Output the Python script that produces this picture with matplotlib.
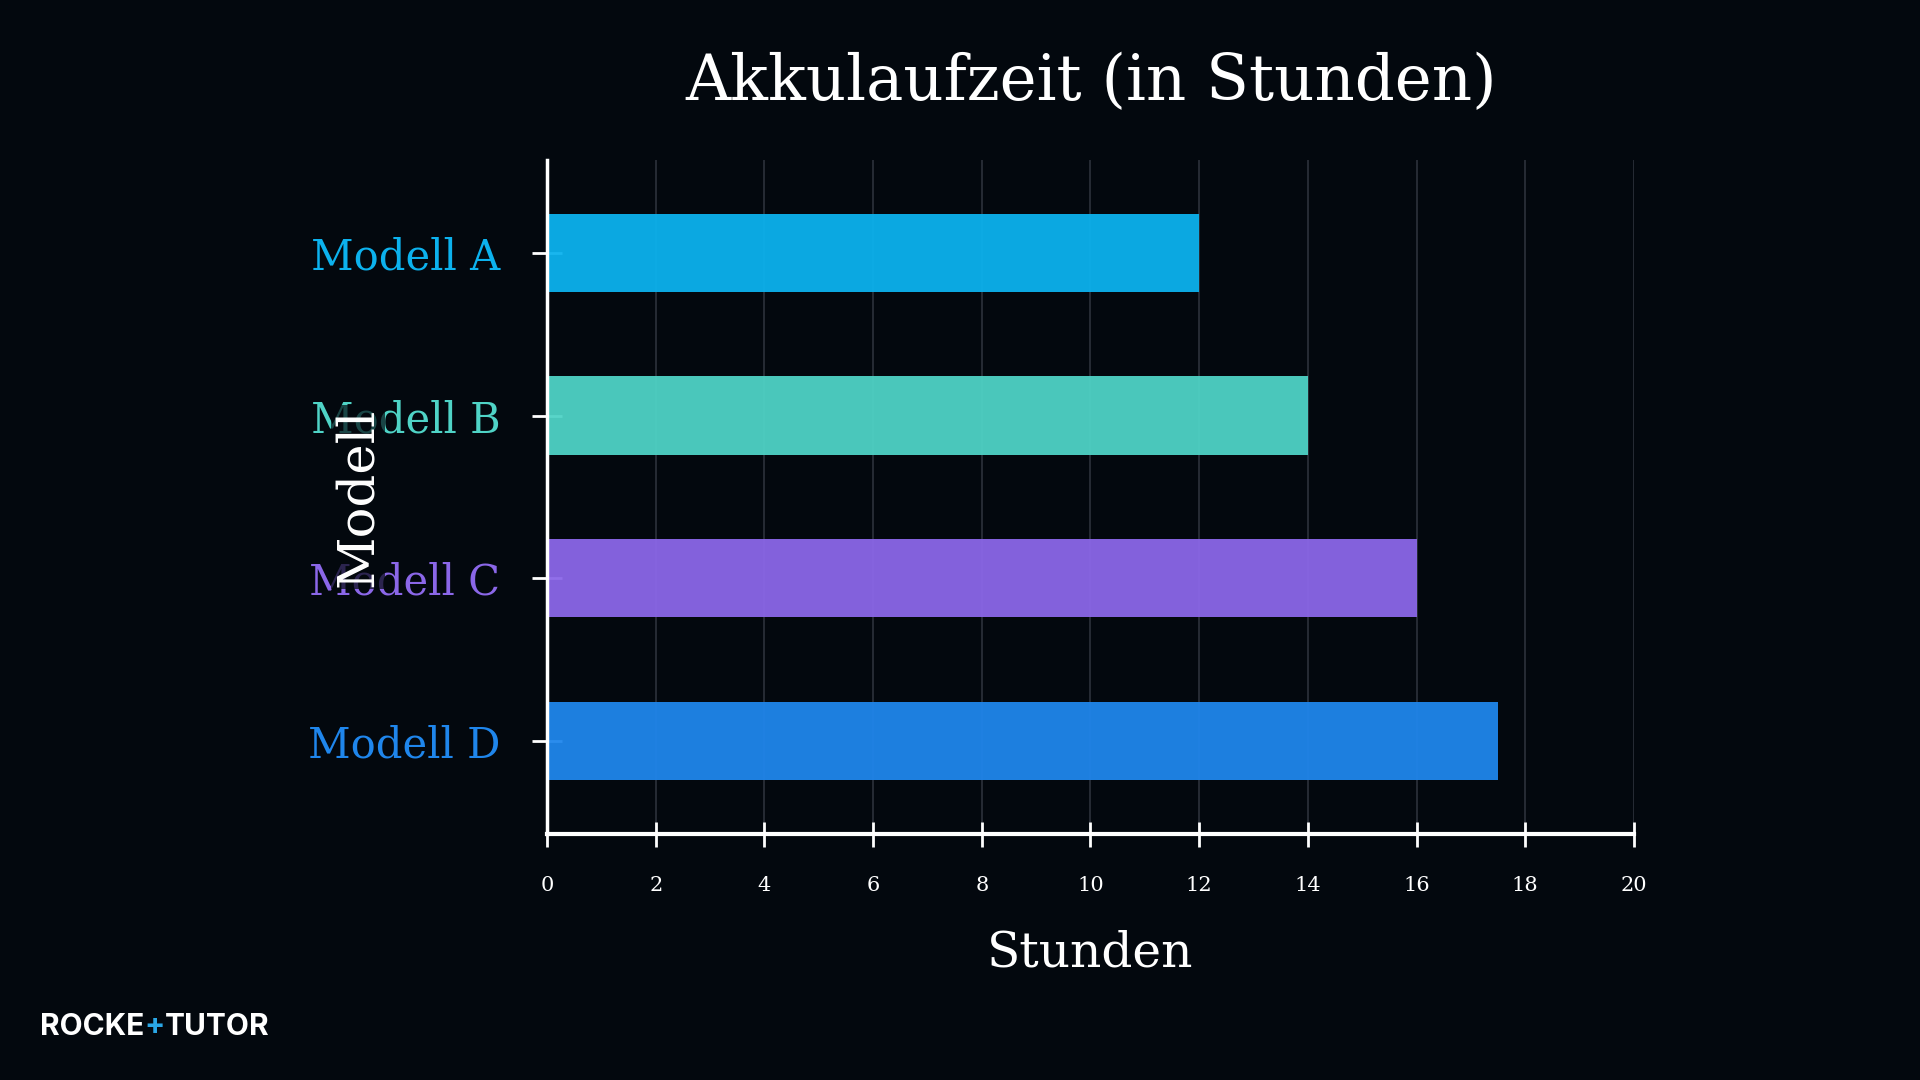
import matplotlib
matplotlib.use('Agg')
import matplotlib.pyplot as plt
import numpy as np
from matplotlib.offsetbox import TextArea, HPacker, AnnotationBbox

# Data
modelle = ['Modell A', 'Modell B', 'Modell C', 'Modell D']
stunden = [12, 14, 16, 17.5]
farben = ['#0cb2ee', '#4fd3c6', '#8b67e8', '#1f86ec']
x_ticks = [0, 2, 4, 6, 8, 10, 12, 14, 16, 18, 20]

BG = '#03080e'
SERIF = ['DejaVu Serif']

fig = plt.figure(figsize=(19.2, 10.8), dpi=100, facecolor=BG)
ax = fig.add_axes([0.2849, 0.2278, 0.5661, 0.6241], facecolor=BG)

y = np.arange(len(modelle))
ax.barh(y, stunden, height=0.48, color=farben, alpha=0.95, zorder=3)

ax.set_xlim(0, 20)
ax.set_ylim(3.57, -0.57)
ax.set_xticks(x_ticks)
ax.set_xticklabels([str(t) for t in x_ticks], fontfamily=SERIF, fontsize=15, color='white')
ax.set_yticks(y)
ax.set_yticklabels(modelle, fontfamily=SERIF, fontsize=30)
for lbl, c in zip(ax.get_yticklabels(), farben):
    lbl.set_color(c)

# grid + spines
ax.grid(axis='x', color='#2c323b', linewidth=1.2, zorder=0)
ax.grid(axis='y', visible=False)
for s in ['top', 'right']:
    ax.spines[s].set_visible(False)
ax.spines['left'].set_color('white')
ax.spines['left'].set_linewidth(2.5)
ax.spines['bottom'].set_color('white')
ax.spines['bottom'].set_linewidth(3)
ax.spines['left'].set_zorder(4)
ax.tick_params(axis='x', direction='inout', length=18, width=2, color='white', pad=21)
ax.tick_params(axis='y', direction='inout', length=21, width=2, color='white', pad=23)

# axis labels
ax.set_xlabel('Stunden', fontfamily=SERIF, fontsize=35, color='white')
ax.xaxis.set_label_coords(0.5, -0.177)
ax.xaxis.label.set_verticalalignment('center')
ax.set_ylabel('Modell', fontfamily=SERIF, fontsize=37, color='white',
              bbox=dict(facecolor=BG, alpha=0.7, edgecolor='none', pad=2))
ax.yaxis.set_label_coords(-0.174, 0.5)
ax.yaxis.label.set_verticalalignment('center')
ax.yaxis.label.set_horizontalalignment('center')

# title
fig.text(0.5685, 0.907, 'Akkulaufzeit (in Stunden)', fontfamily=SERIF, fontsize=45,
         color='white', ha='center', va='baseline')

# logo
parts = [('ROCKE', 'white'), ('+', '#2aa7e6'), ('TUTO', 'white'), ('R', 'white')]
boxes = [TextArea(t, textprops=dict(color=c, fontfamily='Inter', fontweight='bold', fontsize=21.5))
         for t, c in parts]
logo = HPacker(children=boxes, pad=0, sep=0, align='baseline')
ab = AnnotationBbox(logo, (0.0208, 0.049), xycoords='figure fraction',
                    box_alignment=(0, 0.5), frameon=False)
fig.add_artist(ab)

fig.savefig('out.png', dpi=100, facecolor=BG)
